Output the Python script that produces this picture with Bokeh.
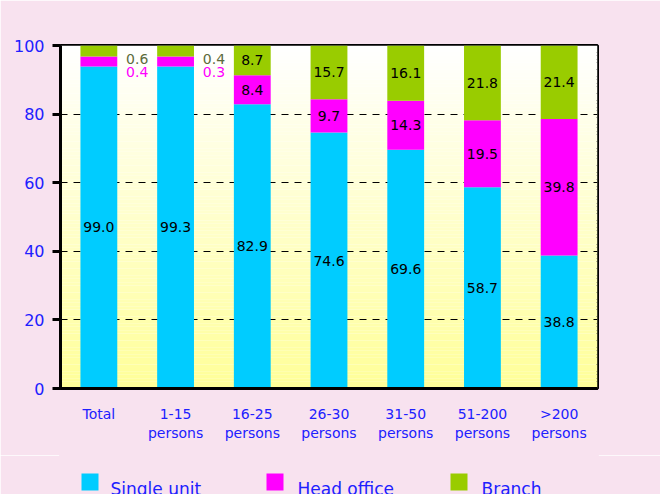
from bokeh.plotting import figure
from bokeh.layouts import column
from bokeh.models import (ColumnDataSource, Range1d, FixedTicker, Label)
from bokeh.core.properties import value
from bokeh.embed import file_html
from bokeh.resources import INLINE

# ---- data ----
categories = ["Total", "1-15\npersons", "16-25\npersons", "26-30\npersons",
              "31-50\npersons", "51-200\npersons", ">200\npersons"]
single_pct = [99.0, 99.3, 82.9, 74.6, 69.6, 58.7, 38.8]
head_pct = [0.4, 0.3, 8.4, 9.7, 14.3, 19.5, 39.8]
branch_pct = [0.6, 0.4, 8.7, 15.7, 16.1, 21.8, 21.4]
# bar heights as drawn in the picture (first two columns are not to scale)
single_bar = [93.9, 93.9, 82.9, 74.6, 69.6, 58.7, 38.8]
head_bar = [2.9, 2.9, 8.4, 9.7, 14.3, 19.5, 39.8]
branch_bar = [3.2, 3.2, 8.7, 15.7, 16.1, 21.8, 21.4]
y_ticks = [0, 20, 40, 60, 80, 100]
series_names = ["Single unit", "Head office", "Branch"]

FONT = "DejaVu Sans"
BLUE = "#2020ff"
PINK = "#f8e2ef"
C_SINGLE, C_HEAD, C_BRANCH = "#00ccff", "#ff00ff", "#99cc00"
series_colors = [C_SINGLE, C_HEAD, C_BRANCH]

n = len(categories)
xs = [i + 0.5 for i in range(n)]

MAIN_H = 455
FL, FR = 60, 597   # frame left / right in pixels
p = figure(width=660, height=MAIN_H, output_backend="svg", toolbar_location=None,
           x_range=Range1d(0, n), y_range=Range1d(0, 100),
           min_border_left=FL, min_border_right=660 - FR, min_border_top=45,
           min_border_bottom=MAIN_H - 388)
p.border_fill_color = PINK
p.background_fill_color = "#ffffff"
p.outline_line_color = "black"
p.outline_line_width = 3

# gradient plot background (white at top -> pale yellow at bottom)
steps = 100
g_bottom, g_top, g_col = [], [], []
for k in range(steps):
    t = k / (steps - 1)  # 0 bottom, 1 top
    b = int(round(0x99 + (0xff - 0x99) * t))
    g_bottom.append(100 * k / steps)
    g_top.append(100 * (k + 1) / steps)
    g_col.append("#ffff%02x" % b)
gr = p.quad(left=0, right=n, bottom=g_bottom, top=g_top, fill_color=g_col,
            line_color=None)
gr.level = "image"

# grid
p.xgrid.visible = False
p.ygrid.ticker = FixedTicker(ticks=[20, 40, 60, 80])
p.ygrid.grid_line_color = "black"
p.ygrid.grid_line_dash = "7 6"
p.ygrid.grid_line_width = 1.2

# stacked bars
src = ColumnDataSource(dict(x=xs, single=single_bar, head=head_bar, branch=branch_bar))
renderers = p.vbar_stack(["single", "head", "branch"], x="x", width=0.48, source=src,
                         color=series_colors, line_color=None)

# value labels
lx, ly, lt, lc = [], [], [], []
for i in range(n):
    s, h, b = single_bar[i], head_bar[i], branch_bar[i]
    lx.append(xs[i]); ly.append(s / 2); lt.append("%.1f" % single_pct[i]); lc.append("black")
    if head_pct[i] < 1:
        lx.append(xs[i] + 0.5); ly.append(92.4); lt.append("%.1f" % head_pct[i]); lc.append("#ff00ff")
        lx.append(xs[i] + 0.5); ly.append(96.2); lt.append("%.1f" % branch_pct[i]); lc.append("#5c6b3c")
    else:
        lx.append(xs[i]); ly.append(s + h / 2); lt.append("%.1f" % head_pct[i]); lc.append("black")
        lx.append(xs[i]); ly.append(s + h + b / 2); lt.append("%.1f" % branch_pct[i]); lc.append("black")
lsrc = ColumnDataSource(dict(x=lx, y=ly, t=lt, c=lc))
p.text(x="x", y="y", text="t", text_color="c", source=lsrc, text_align="center",
       text_baseline="middle", text_font=value(FONT), text_font_size="14px")

# axes
ya = p.yaxis[0]
ya.ticker = FixedTicker(ticks=y_ticks)
ya.axis_line_width = 3
ya.major_tick_line_width = 3
ya.major_tick_out = 8
ya.major_tick_in = 0
ya.minor_tick_out = 0
ya.minor_tick_in = 0
ya.major_label_standoff = 8
ya.major_label_text_color = BLUE
ya.major_label_text_font = FONT
ya.major_label_text_font_size = "16px"

xa = p.xaxis[0]
xa.ticker = FixedTicker(ticks=xs)
xa.major_label_overrides = {x: c for x, c in zip(xs, categories)}
xa.axis_line_width = 3
xa.major_tick_out = 0
xa.major_tick_in = 0
xa.minor_tick_out = 0
xa.minor_tick_in = 0
xa.major_label_standoff = 17
xa.major_label_text_color = BLUE
xa.major_label_text_font = FONT
xa.major_label_text_font_size = "14px"

# titles
p.add_layout(Label(x=0.065, y=107.4, text="Percentage", text_color=BLUE,
                   text_font=FONT, text_font_size="16px", text_baseline="middle"))
p.add_layout(Label(x=7.17, y=2.0, text="Size", text_color=BLUE,
                   text_font=FONT, text_font_size="16px", text_baseline="middle"))

# ---- legend strip (pixel coordinates, y downward) ----
LEG_H = 494 - MAIN_H
lg = figure(width=660, height=LEG_H, output_backend="svg", toolbar_location=None,
            x_range=Range1d(FL, FR), y_range=Range1d(LEG_H, 0),
            x_axis_type=None, y_axis_type=None,
            min_border_left=FL, min_border_right=660 - FR, min_border_top=0,
            min_border_bottom=0)
lg.border_fill_color = PINK
lg.background_fill_color = PINK
lg.outline_line_color = PINK
lg.outline_line_width = 3
lg.xgrid.visible = False
lg.ygrid.visible = False
sq_x = [89.5, 274.5, 458.5]
txt_x = [110, 297, 481]
lg.rect(x=sq_x, y=[26.5] * 3, width=17, height=17, fill_color=series_colors,
        line_color=None)
lg.text(x=txt_x, y=[33.5] * 3, text=series_names, text_color=BLUE,
        text_font=value(FONT), text_font_size="17px", text_baseline="alphabetic")

open("out.html", "w").write(file_html(column(p, lg, spacing=0), INLINE))
